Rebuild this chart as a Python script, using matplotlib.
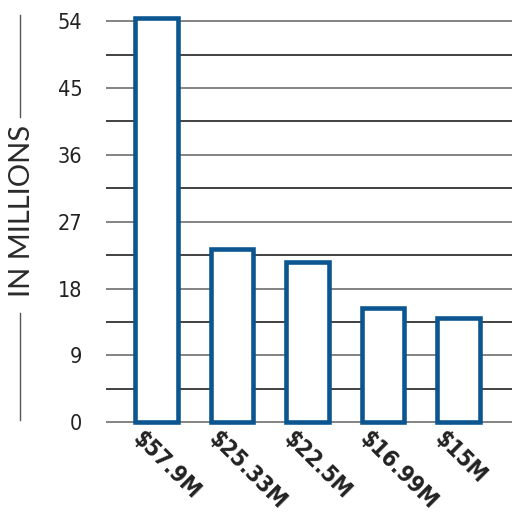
import numpy as np
import matplotlib.pyplot as plt
import matplotlib.transforms as mtransforms
from matplotlib.lines import Line2D

labels = ['$57.9M', '$25.33M', '$22.5M', '$16.99M', '$15M']
values = [54.4, 23.35, 21.55, 15.32, 13.97]
yticks = [0, 9, 18, 27, 36, 45, 54]
grid_minor = [4.5, 13.5, 22.5, 31.5, 40.5, 49.5]

blue = '#0b5591'
dark = '#222222'

fig = plt.figure(figsize=(5.12, 5.14), dpi=100)
ax = fig.add_axes([106/512, 0.1712, 1 - 106/512, 0.8095])

x = np.arange(len(labels))
for v in yticks:
    ax.axhline(v, color='#7a7a7a', lw=1.3, zorder=1)
for v in grid_minor:
    ax.axhline(v, color='#333333', lw=1.3, zorder=1)

ax.bar(x, values, width=0.565, facecolor='white', edgecolor=blue, linewidth=3.3, zorder=3)

ax.set_xlim(-0.67, 4.71)
ax.set_ylim(-0.5, 55.5)
for s in ax.spines.values():
    s.set_visible(False)

ax.set_yticks(yticks)
ax.set_yticklabels([str(t) for t in yticks], family='DejaVu Sans', stretch='condensed',
                   fontsize=15.5, color=dark)
ax.tick_params(axis='y', length=0, pad=17)
ax.tick_params(axis='x', length=0, pad=1)

ax.set_xticks(x)
ax.set_xticklabels([l.replace('$', r'\$') for l in labels], rotation=-45, ha='left', va='top',
                   rotation_mode='anchor', family='DejaVu Sans', stretch='condensed',
                   fontweight='bold', fontsize=16.5, color=dark)
off = mtransforms.ScaledTranslation(-12/100, 0, fig.dpi_scale_trans)
for t in ax.get_xticklabels():
    t.set_transform(t.get_transform() + off)

fig.text(22/512, 1 - 211/514, 'IN MILLIONS', rotation=90, ha='center', va='center',
         family=['Lato', 'DejaVu Sans'], fontsize=21, color='#2a2a2a')
fig.add_artist(Line2D([20/512, 20/512], [1 - 15/514, 1 - 117/514], color='#555555', lw=1))
fig.add_artist(Line2D([20/512, 20/512], [1 - 313/514, 1 - 420/514], color='#555555', lw=1))

fig.savefig('out.png', dpi=100)
